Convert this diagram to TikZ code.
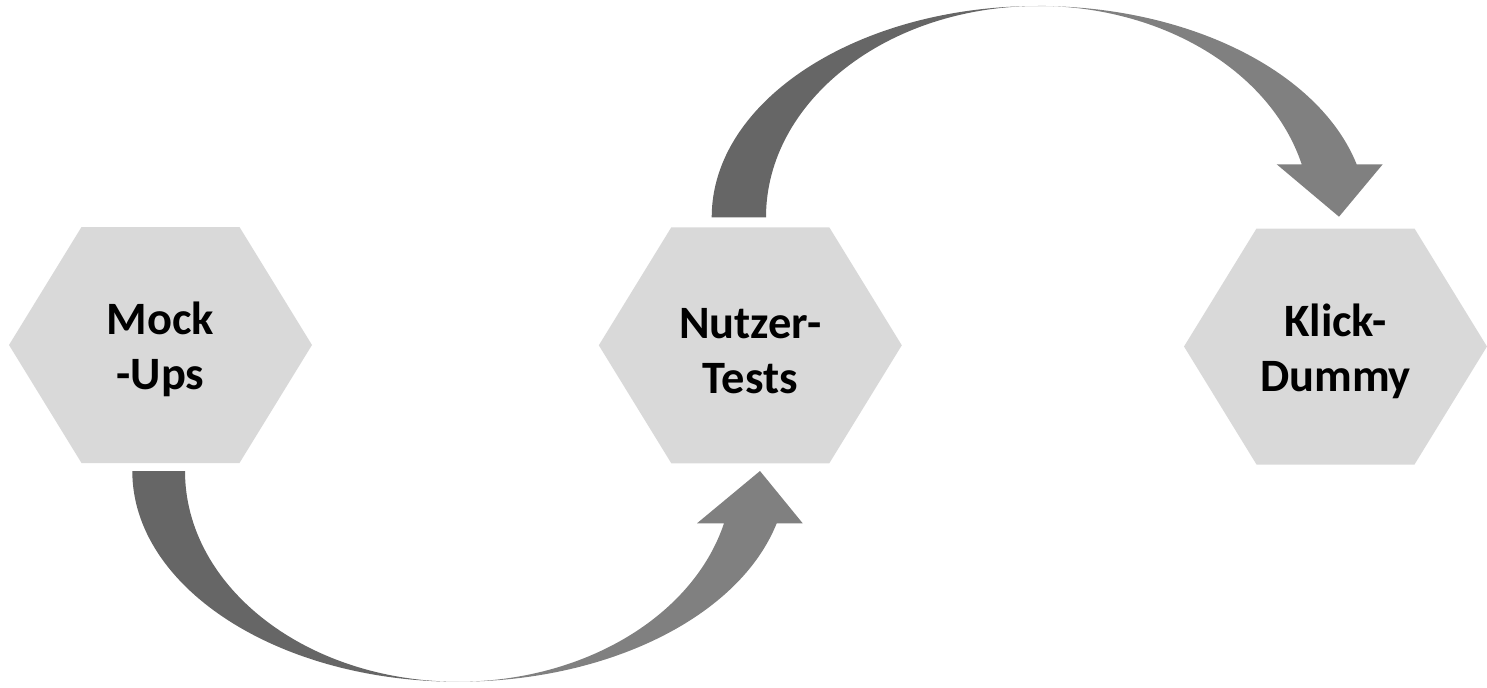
\documentclass[tikz,border=0pt]{standalone}
\usepackage{fontspec}
\setmainfont{Carlito}
\definecolor{hexfill}{HTML}{D9D9D9}
\definecolor{arrdark}{HTML}{666666}
\definecolor{arrlight}{HTML}{808080}
\begin{document}
\begin{tikzpicture}[x=0.01cm,y=0.01cm,
  hexlabel/.style={align=center,font=\fontsize{13.2}{15.6}\selectfont\bfseries,text=black,inner sep=0pt},
  hexshape/.style={fill=hexfill,draw=none},
  darkpart/.style={fill=arrdark,draw=none},
  lightpart/.style={fill=arrlight,draw=none}]
\useasboundingbox (0,0) rectangle (1487,687);
% hexagons
\newcommand{\hexat}[2]{%
  \fill[hexshape] ({#1-151.5},#2) -- ({#1-79},{#2+118}) -- ({#1+79},{#2+118}) -- ({#1+151.5},#2) -- ({#1+79},{#2-118}) -- ({#1-79},{#2-118}) -- cycle;}
\hexat{160.5}{342}
\hexat{750.3}{341.7}
\hexat{1335.5}{340.5}
\node[hexlabel] (mock) at (160.5,338) {Mock\\-Ups};
\node[hexlabel] (nutzer) at (750.3,336) {Nutzer-\\Tests};
\node[hexlabel] (klick) at (1335.5,336) {Klick-\\Dummy};
% lower curved arrow (Mock-Ups -> Nutzer-Tests)
\fill[darkpart] (132.3,216) arc[start angle=180,end angle=270,x radius=325.7,y radius=210.7]
  arc[start angle=270,end angle=180,x radius=273,y radius=210.7] -- cycle;
\fill[lightpart] (458,5.3) arc[start angle=270,end angle=345.63,x radius=329,y radius=210.7]
  -- (802.7,163.7) -- (760,216) -- (697,163.7) -- (724,163.7)
  arc[start angle=345.63,end angle=270,x radius=274.6,y radius=210.7] -- cycle;
% upper curved arrow (Nutzer-Tests -> Klick-Dummy)
\fill[darkpart] (711.7,469.7) arc[start angle=180,end angle=90,x radius=326.3,y radius=211.3]
  arc[start angle=90,end angle=180,x radius=272,y radius=211.3] -- cycle;
\fill[lightpart] (1038,681) arc[start angle=90,end angle=14.5,x radius=329.2,y radius=211.3]
  -- (1382.7,522.7) -- (1339,470.3) -- (1276.7,522.7) -- (1301.7,522.7)
  arc[start angle=14.5,end angle=90,x radius=272.4,y radius=211.3] -- cycle;
\end{tikzpicture}
\end{document}
